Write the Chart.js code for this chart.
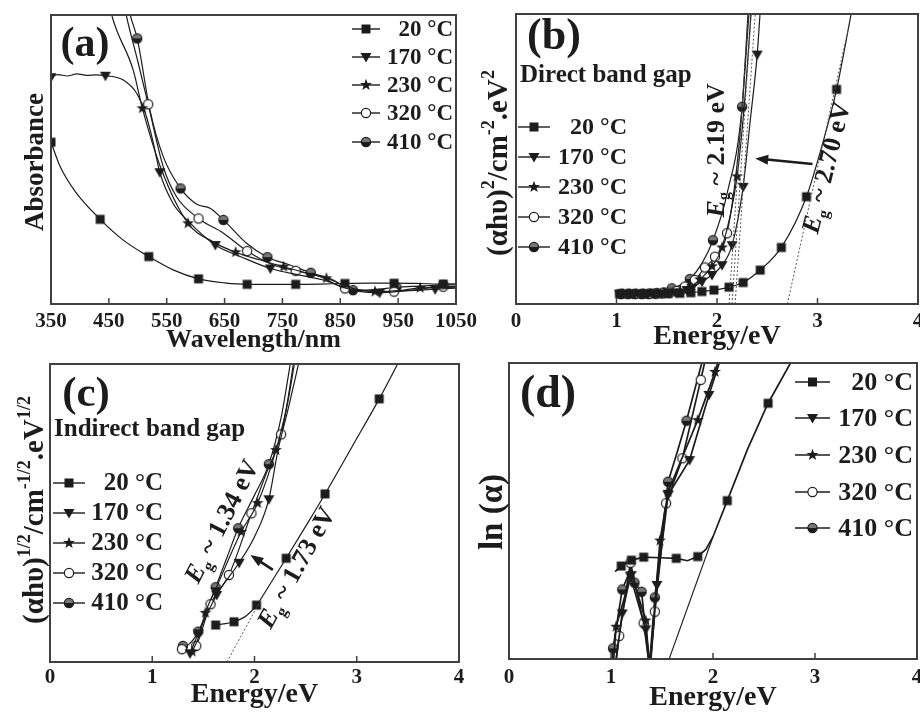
<!DOCTYPE html>
<html>
<head>
<meta charset="utf-8">
<script src="https://cdn.jsdelivr.net/npm/chart.js@4.4.1/dist/chart.umd.min.js"></script>
<style>
html, body { margin: 0; padding: 0; background: #fff; }
#wrap { position: relative; width: 920px; height: 712px; overflow: hidden; }
#wrap canvas { position: absolute; left: 0; top: 0; }
</style>
</head>
<body>
<div id="wrap">
  <canvas id="chartA" width="920" height="712"></canvas>
  <canvas id="chartB" width="920" height="712"></canvas>
  <canvas id="chartC" width="920" height="712"></canvas>
  <canvas id="chartD" width="920" height="712"></canvas>
</div>
<script>
// ---- data (y is in arbitrary units, 0..100 = bottom..top of frame) ----
const seriesLabels = ['20 °C', '170 °C', '230 °C', '320 °C', '410 °C'];
const wavelengthTicks = [350, 450, 550, 650, 750, 850, 950, 1050];
const energyTicks = [0, 1, 2, 3, 4];

// (a) absorbance vs wavelength
const absWl20 = [350, 366, 392, 435, 475, 519, 561, 605, 650, 689, 731, 773, 815, 858, 900, 943, 985, 1028, 1050];
const absVal20 = [56, 47.5, 38.9, 29.3, 22.1, 16.4, 11.8, 8.7, 7.3, 6.8, 6.8, 6.8, 6.9, 7.1, 7.2, 7.2, 7.1, 6.9, 7.0];
const absWl170 = [350, 362, 378, 395, 412, 428, 444, 475, 498, 515, 527, 538, 561, 585, 634, 680, 729, 780, 821, 872, 918, 965, 1014, 1050];
const absVal170 = [78.5, 79.4, 78.9, 79.6, 79.1, 79.3, 79.0, 77.5, 72.9, 64.8, 55.6, 45.6, 34.8, 29.1, 20.4, 16.2, 12.3, 10.0, 8.3, 4.8, 3.9, 4.6, 5.1, 5.5];
const absWl230 = [430, 455, 492, 508, 540, 587, 630, 669, 710, 752, 790, 826, 870, 910, 950, 988, 1050];
const absVal230 = [125, 100, 81, 67.7, 47, 27.9, 21.5, 17.9, 15.3, 12.9, 10.8, 8.9, 5.5, 4.3, 4.6, 5.6, 5.8];
const absWl320 = [455, 480, 500, 518, 544, 567, 605, 648, 689, 734, 773, 815, 858, 900, 943, 990, 1028, 1050];
const absVal320 = [125, 100, 84, 69.1, 47.5, 37.1, 29.6, 24.5, 18.3, 13.5, 11.5, 9.5, 5.4, 4.5, 4.3, 5.2, 6.0, 6.0];
const absWl410 = [462, 487, 499, 521, 544, 574, 602, 625, 648, 688, 724, 763, 799, 836, 872, 910, 947, 990, 1028, 1050];
const absVal410 = [125, 100, 91.9, 67.1, 51, 40, 34.5, 33.1, 29.1, 21, 16.2, 13.5, 10.8, 8.5, 4.8, 5.0, 5.8, 6.2, 6.6, 6.6];

// (b) direct band gap, (ahv)^2 vs energy
const dirE20 = [1.03, 1.15, 1.27, 1.39, 1.51, 1.63, 1.74, 1.85, 1.97, 2.12, 2.26, 2.43, 2.64, 2.89, 3.04, 3.19, 3.34];
const dirV20 = [3.5, 3.5, 3.5, 3.6, 3.6, 3.7, 3.9, 4.3, 4.8, 5.8, 7.4, 11.7, 19.5, 37, 54, 74, 101];
const dirE170 = [1.03, 1.10, 1.17, 1.24, 1.31, 1.38, 1.45, 1.52, 1.60, 1.70, 1.75, 1.85, 1.95, 2.05, 2.15, 2.26, 2.33, 2.40, 2.43];
const dirV170 = [3.5, 3.5, 3.5, 3.5, 3.5, 3.6, 3.6, 3.8, 4.0, 4.8, 5.5, 7.7, 10, 13.4, 20.3, 40.4, 63, 86, 101];
const dirE230 = [1.06, 1.13, 1.20, 1.27, 1.34, 1.41, 1.48, 1.56, 1.63, 1.72, 1.83, 1.95, 2.05, 2.20, 2.28, 2.34];
const dirV230 = [3.5, 3.5, 3.5, 3.5, 3.5, 3.6, 3.7, 3.9, 4.3, 5.5, 8.5, 13, 19.5, 44, 72, 101];
const dirE320 = [1.04, 1.11, 1.18, 1.25, 1.32, 1.39, 1.46, 1.53, 1.60, 1.68, 1.78, 1.88, 1.98, 2.10, 2.22, 2.32];
const dirV320 = [3.5, 3.5, 3.5, 3.5, 3.5, 3.6, 3.7, 3.9, 4.5, 6, 8.3, 12.6, 16.3, 24.4, 55, 101];
const dirE410 = [1.05, 1.12, 1.19, 1.26, 1.33, 1.40, 1.47, 1.55, 1.64, 1.73, 1.85, 1.96, 2.10, 2.25, 2.31];
const dirV410 = [3.5, 3.5, 3.5, 3.5, 3.6, 3.7, 4.0, 5.4, 6.6, 8.6, 14, 22, 38, 68, 101];
const dirFitE = [[2.12, 2.31], [2.15, 2.34], [2.18, 2.38], [2.70, 3.32]];
const dirFitV = [[0, 100], [0, 100], [0, 100], [0, 97]];

// (c) indirect band gap, (ahv)^1/2 vs energy
const indE20 = [1.62, 1.80, 1.92, 2.02, 2.15, 2.31, 2.50, 2.69, 2.95, 3.22, 3.40];
const indV20 = [12.4, 13.5, 15.5, 19.1, 26, 34.8, 45.5, 56.4, 72, 88.3, 100];
const indE170 = [1.37, 1.45, 1.63, 1.85, 2.00, 2.14, 2.23, 2.33, 2.43];
const indV170 = [2.9, 9.6, 22.5, 33.3, 42, 54.6, 71.1, 85, 100];
const indE230 = [1.39, 1.45, 1.52, 1.64, 1.87, 2.03, 2.21, 2.31, 2.38];
const indV230 = [3.5, 8, 16.5, 26, 43.7, 53.3, 71.1, 85, 100];
const indE320 = [1.29, 1.36, 1.43, 1.57, 1.75, 1.97, 2.10, 2.26, 2.33, 2.39];
const indV320 = [4.3, 3.5, 5.4, 19.4, 29.2, 49.9, 62, 76.4, 88, 100];
const indE410 = [1.30, 1.36, 1.45, 1.62, 1.73, 1.84, 2.00, 2.14, 2.26, 2.35];
const indV410 = [5.4, 6, 10.2, 25.1, 35, 44.9, 56, 66.4, 82, 100];
const indFitE = [[1.73, 2.08]];
const indFitV = [[0, 22]];

// (d) ln(alpha) vs energy
const lnE20 = [1.04, 1.10, 1.20, 1.32, 1.48, 1.64, 1.75, 1.85, 1.93, 2.00, 2.14, 2.34, 2.54, 2.76];
const lnV20 = [29.5, 31.4, 33.4, 34.4, 34.2, 34, 33.2, 34.6, 37, 41.3, 53.5, 71, 86.4, 100];
const lnE170 = [1.04, 1.11, 1.19, 1.34, 1.385, 1.45, 1.56, 1.77, 1.96, 2.08];
const lnV170 = [-3, 15.4, 28, 10, -3, 25, 55.4, 67.2, 89.2, 102];
const lnE230 = [1.02, 1.05, 1.20, 1.34, 1.38, 1.48, 1.56, 1.85, 2.02, 2.07];
const lnV230 = [-3, 10.9, 29, 13, -3, 40, 56.5, 80.7, 97, 103];
const lnE320 = [1.04, 1.08, 1.19, 1.32, 1.38, 1.43, 1.54, 1.70, 1.88, 1.93];
const lnV320 = [-3, 7.8, 32.5, 12.1, -3, 16, 52.6, 67.8, 94.3, 102];
const lnE410 = [1.00, 1.02, 1.11, 1.19, 1.23, 1.30, 1.375, 1.43, 1.56, 1.65, 1.74, 1.89, 1.93];
const lnV410 = [-5, 3.6, 23.5, 30, 25.8, 22.7, -3, 20.8, 59.9, 70, 80.5, 100, 106];
const lnFitE = [[1.57, 2.0]];
const lnFitV = [[0, 41.3]];

// which points carry a marker symbol
const markA = [[0, 3, 5, 7, 9, 11, 13, 15, 17], [0, 6, 11, 14, 16, 20, 22], [3, 5, 7, 9, 11, 13, 15], [3, 6, 8, 10, 12, 14, 16], [2, 5, 8, 10, 12, 14, 16, 18]];
const markB = [[0, 1, 2, 3, 4, 5, 6, 7, 8, 9, 10, 11, 12, 13, 15], [0, 1, 2, 3, 4, 5, 6, 7, 8, 9, 10, 11, 12, 13, 14, 15, 17], [0, 1, 2, 3, 4, 5, 6, 7, 8, 9, 10, 11, 12, 13], [0, 1, 2, 3, 4, 5, 6, 7, 8, 9, 10, 11, 12, 13], [0, 1, 2, 3, 4, 5, 6, 7, 9, 11, 13]];
const markC = [[0, 1, 3, 5, 7, 9], [0, 1, 2, 3, 5], [0, 2, 4, 5, 6], [0, 2, 3, 4, 5, 7], [0, 2, 3, 5, 7]];
const markD = [[1, 2, 3, 5, 7, 10, 12], [1, 2, 3, 5, 6, 7, 8], [1, 2, 3, 5, 6, 7, 8], [1, 2, 3, 5, 6, 7, 8], [1, 2, 4, 5, 7, 8, 10]];

// ---- drawing helpers ----
const INK = '#1c1c1c';
const SERIF = '"Liberation Serif", "Times New Roman", serif';
const symbols = ['square', 'down', 'star', 'open', 'half'];

function drawMarker(ctx, kind, x, y) {
    ctx.save();
    ctx.fillStyle = INK;
    ctx.strokeStyle = INK;
    ctx.lineWidth = 1.2;
    ctx.beginPath();
    if (kind === 'square') {
        ctx.rect(x - 4.5, y - 4.5, 9, 9);
        ctx.fill();
    } else if (kind === 'down') {
        ctx.moveTo(x - 5.5, y - 4);
        ctx.lineTo(x + 5.5, y - 4);
        ctx.lineTo(x, y + 5.5);
        ctx.closePath();
        ctx.fill();
    } else if (kind === 'star') {
        for (let i = 0; i < 10; i++) {
            const r = i % 2 === 0 ? 6.2 : 2.6;
            const a = -Math.PI / 2 + i * Math.PI / 5;
            ctx.lineTo(x + r * Math.cos(a), y + r * Math.sin(a));
        }
        ctx.closePath();
        ctx.fill();
    } else if (kind === 'open') {
        ctx.arc(x, y, 4.6, 0, Math.PI * 2);
        ctx.fillStyle = '#fff';
        ctx.fill();
        ctx.stroke();
    } else if (kind === 'half') {
        ctx.arc(x, y, 4.6, 0, Math.PI * 2);
        ctx.fillStyle = '#777';
        ctx.fill();
        ctx.beginPath();
        ctx.arc(x, y, 4.6, 0, Math.PI);
        ctx.fillStyle = INK;
        ctx.fill();
        ctx.beginPath();
        ctx.arc(x, y, 4.6, 0, Math.PI * 2);
        ctx.stroke();
    }
    ctx.restore();
}

// small canvases used as Chart.js point styles
const markerImg = {};
symbols.forEach(kind => {
    const c = document.createElement('canvas');
    c.width = 16;
    c.height = 16;
    drawMarker(c.getContext('2d'), kind, 8, 8);
    markerImg[kind] = c;
});

// text with italic / superscript / subscript parts, centred on (x, y)
function richText(ctx, parts, x, y, size, angle) {
    const fontFor = m => (m === 'it' ? 'italic bold ' : 'bold ') +
        Math.round(m === 'sup' || m === 'sub' ? size * 0.62 : size) + 'px ' + SERIF;
    ctx.save();
    let total = 0;
    parts.forEach(p => { ctx.font = fontFor(p[1]); total += ctx.measureText(p[0]).width; });
    ctx.translate(x, y);
    ctx.rotate(angle * Math.PI / 180);
    ctx.textBaseline = 'middle';
    ctx.textAlign = 'left';
    ctx.fillStyle = INK;
    let cx = -total / 2;
    parts.forEach(p => {
        ctx.font = fontFor(p[1]);
        const dy = p[1] === 'sup' ? -size * 0.36 : (p[1] === 'sub' ? size * 0.32 : 0);
        ctx.fillText(p[0], cx, dy);
        cx += ctx.measureText(p[0]).width;
    });
    ctx.restore();
}

function arrow(ctx, x1, y1, x2, y2) {
    const a = Math.atan2(y2 - y1, x2 - x1);
    const L = 13, W = 5;
    ctx.save();
    ctx.strokeStyle = INK;
    ctx.fillStyle = INK;
    ctx.lineWidth = 2.6;
    ctx.beginPath();
    ctx.moveTo(x1, y1);
    ctx.lineTo(x2 - L * 0.7 * Math.cos(a), y2 - L * 0.7 * Math.sin(a));
    ctx.stroke();
    const bx = x2 - L * Math.cos(a), by = y2 - L * Math.sin(a);
    ctx.beginPath();
    ctx.moveTo(x2, y2);
    ctx.lineTo(bx - W * Math.sin(a), by + W * Math.cos(a));
    ctx.lineTo(bx + W * Math.sin(a), by - W * Math.cos(a));
    ctx.closePath();
    ctx.fill();
    ctx.restore();
}

function decor(spec) {
    return {
        id: 'decor',
        afterDraw(chart) {
            const ctx = chart.ctx;
            const area = chart.chartArea;
            const sx = chart.scales.x, sy = chart.scales.y;
            ctx.save();
            // frame
            ctx.strokeStyle = '#404040';
            ctx.lineWidth = 2;
            ctx.strokeRect(area.left, area.top, area.right - area.left, area.bottom - area.top);
            // inward tick marks
            ctx.lineWidth = 1.5;
            sx.ticks.forEach(t => {
                const px = sx.getPixelForValue(t.value);
                ctx.beginPath();
                ctx.moveTo(px, area.bottom);
                ctx.lineTo(px, area.bottom - 6);
                ctx.stroke();
            });
            // panel letter
            ctx.fillStyle = INK;
            ctx.textBaseline = 'middle';
            ctx.textAlign = 'center';
            ctx.font = 'bold ' + spec.letter[3] + 'px ' + SERIF;
            ctx.fillText(spec.letter[0], spec.letter[1], spec.letter[2]);
            // plain notes
            (spec.notes || []).forEach(n => {
                ctx.textAlign = 'left';
                ctx.font = 'bold ' + n[3] + 'px ' + SERIF;
                ctx.fillText(n[0], n[1], n[2]);
            });
            // legend
            const lg = spec.legend;
            seriesLabels.forEach((lab, i) => {
                const y = lg.rows[i];
                ctx.strokeStyle = INK;
                ctx.lineWidth = 1.4;
                ctx.beginPath();
                ctx.moveTo(lg.line[0], y);
                ctx.lineTo(lg.line[1], y);
                ctx.stroke();
                drawMarker(ctx, symbols[i], (lg.line[0] + lg.line[1]) / 2, y);
                ctx.fillStyle = INK;
                ctx.textAlign = 'right';
                ctx.textBaseline = 'middle';
                ctx.font = 'bold ' + lg.size + 'px ' + SERIF;
                ctx.fillText(lab, lg.right, y + 1);
            });
            // y-axis title
            richText(ctx, spec.yTitle.parts, spec.yTitle.x, spec.yTitle.y, spec.yTitle.size, -90);
            // arrows and band-gap labels, placed in data coordinates
            (spec.arrows || []).forEach(a => arrow(ctx,
                sx.getPixelForValue(a[0]), sy.getPixelForValue(a[1]),
                sx.getPixelForValue(a[2]), sy.getPixelForValue(a[3])));
            (spec.gaps || []).forEach(g => richText(ctx,
                [['E', 'it'], ['g', 'sub'], [' ~ ' + g.text, '']],
                sx.getPixelForValue(g.at[0]), sy.getPixelForValue(g.at[1]), g.size, g.angle));
            ctx.restore();
        }
    };
}

function series(xs, ys, marks, kind, width, smooth) {
    return {
        data: xs.map((x, i) => ({ x: x, y: ys[i] })),
        borderColor: INK,
        borderWidth: width,
        fill: false,
        tension: smooth ? 0.4 : 0,
        cubicInterpolationMode: smooth ? 'monotone' : 'default',
        pointStyle: markerImg[kind],
        pointRadius: c => marks.includes(c.dataIndex) ? 4 : 0,
        pointHoverRadius: 0
    };
}

function fitLine(xs, ys, dashed) {
    return {
        data: xs.map((x, i) => ({ x: x, y: ys[i] })),
        borderColor: dashed ? '#555' : INK,
        borderWidth: dashed ? 1 : 1.1,
        borderDash: dashed ? [2, 2] : [],
        pointRadius: 0,
        tension: 0
    };
}

function makeChart(id, spec) {
    const box = spec.box;
    return new Chart(document.getElementById(id), {
        type: 'line',
        data: { datasets: spec.datasets },
        options: {
            responsive: false,
            animation: false,
            events: [],
            layout: {
                autoPadding: false,
                padding: { left: box.left, top: box.top, right: 920 - box.right, bottom: 712 - box.bottom - spec.axisH }
            },
            plugins: { legend: { display: false }, tooltip: { enabled: false } },
            scales: {
                x: {
                    type: 'linear',
                    min: spec.ticks[0],
                    max: spec.ticks[spec.ticks.length - 1],
                    border: { display: false },
                    grid: { display: false, drawTicks: false },
                    afterBuildTicks: s => { s.ticks = spec.ticks.map(v => ({ value: v })); },
                    ticks: {
                        color: INK,
                        padding: spec.tickPad,
                        maxRotation: 0,
                        autoSkip: false,
                        font: { family: SERIF, size: 21, weight: 'bold' },
                        callback: v => String(v)
                    },
                    title: {
                        display: true,
                        text: spec.xTitle,
                        color: INK,
                        font: { family: SERIF, size: spec.xTitleSize, weight: 'bold', lineHeight: 1 },
                        padding: { top: 0, bottom: spec.titlePad }
                    },
                    afterFit: s => { s.height = spec.axisH; s.paddingLeft = 0; s.paddingRight = 0; }
                },
                y: { type: 'linear', min: 0, max: 100, display: false }
            }
        },
        plugins: [decor(spec)]
    });
}

// ---- panel (a) ----
const absX = [absWl20, absWl170, absWl230, absWl320, absWl410];
const absY = [absVal20, absVal170, absVal230, absVal320, absVal410];
makeChart('chartA', {
    box: { left: 51, top: 15, right: 456, bottom: 304 },
    axisH: 52, tickPad: 5, titlePad: 3,
    ticks: wavelengthTicks,
    xTitle: 'Wavelength/nm', xTitleSize: 26,
    datasets: absX.map((xs, i) => series(xs, absY[i], markA[i], symbols[i], 1.2, true)),
    letter: ['(a)', 85, 45, 42],
    legend: { rows: [29, 57, 85, 113, 142], line: [352, 380], right: 453, size: 23 },
    yTitle: { parts: [['Absorbance', '']], x: 36, y: 162, size: 27 }
});

// ---- panel (b) ----
const dirX = [dirE20, dirE170, dirE230, dirE320, dirE410];
const dirY = [dirV20, dirV170, dirV230, dirV320, dirV410];
makeChart('chartB', {
    box: { left: 516, top: 14, right: 918, bottom: 304 },
    axisH: 52, tickPad: 5, titlePad: 5,
    ticks: energyTicks,
    xTitle: 'Energy/eV', xTitleSize: 28,
    datasets: dirFitE.map((xs, i) => fitLine(xs, dirFitV[i], true))
        .concat(dirX.map((xs, i) => series(xs, dirY[i], markB[i], symbols[i], 1.2, true))),
    letter: ['(b)', 554, 38, 44],
    notes: [['Direct band gap', 520, 76, 25]],
    legend: { rows: [127, 157, 187, 217, 247], line: [518, 550], right: 627, size: 24 },
    yTitle: { parts: [['(αhυ)', ''], ['2', 'sup'], ['/cm', ''], ['-2', 'sup'], ['.eV', ''], ['2', 'sup']], x: 500, y: 163, size: 29 },
    arrows: [[2.95, 48.3, 2.38, 50.2]],
    gaps: [{ text: '2.19 eV', at: [2.0, 53], angle: -90, size: 26 }, { text: '2.70 eV', at: [3.10, 46.9], angle: -76, size: 26 }]
});

// ---- panel (c) ----
const indX = [indE20, indE170, indE230, indE320, indE410];
const indY = [indV20, indV170, indV230, indV320, indV410];
makeChart('chartC', {
    box: { left: 50, top: 364, right: 459, bottom: 662 },
    axisH: 50, tickPad: 3, titlePad: 3,
    ticks: energyTicks,
    xTitle: 'Energy/eV', xTitleSize: 28,
    datasets: indFitE.map((xs, i) => fitLine(xs, indFitV[i], true))
        .concat(indX.map((xs, i) => series(xs, indY[i], markC[i], symbols[i], 1.2, true))),
    letter: ['(c)', 86, 395, 43],
    notes: [['Indirect band gap', 54, 430, 25]],
    legend: { rows: [483, 513, 543, 573, 603], line: [53, 85], right: 163, size: 25 },
    yTitle: { parts: [['(αhυ)', ''], ['1/2', 'sup'], ['/cm', ''], ['-1/2', 'sup'], ['.eV', ''], ['1/2', 'sup']], x: 36, y: 510, size: 29 },
    arrows: [[2.18, 30.9, 1.96, 35.9]],
    gaps: [{ text: '1.34 eV', at: [1.69, 47], angle: -63, size: 26 }, { text: '1.73 eV', at: [2.42, 31.5], angle: -61, size: 26 }]
});

// ---- panel (d) ----
const lnX = [lnE20, lnE170, lnE230, lnE320, lnE410];
const lnY = [lnV20, lnV170, lnV230, lnV320, lnV410];
makeChart('chartD', {
    box: { left: 509, top: 363, right: 917, bottom: 659 },
    axisH: 53, tickPad: 6, titlePad: 0,
    ticks: energyTicks,
    xTitle: 'Energy/eV', xTitleSize: 28,
    datasets: lnFitE.map((xs, i) => fitLine(xs, lnFitV[i], false))
        .concat(lnX.map((xs, i) => series(xs, lnY[i], markD[i], symbols[i], 1.7, false))),
    letter: ['(d)', 548, 395, 46],
    legend: { rows: [382, 418, 455, 492, 528], line: [795, 830], right: 913, size: 26 },
    yTitle: { parts: [['ln (α)', '']], x: 493, y: 512, size: 33 }
});
</script>
</body>
</html>
